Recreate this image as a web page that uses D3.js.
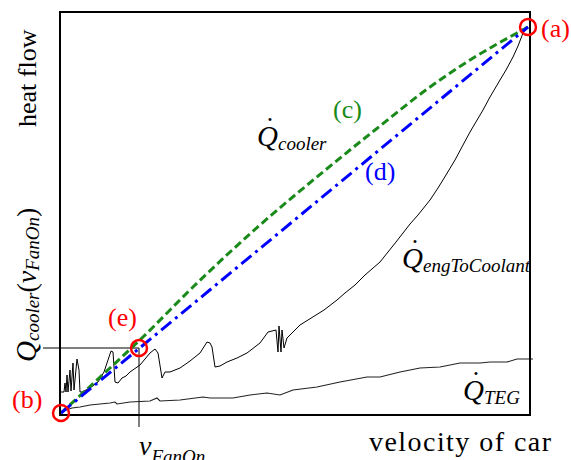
<!DOCTYPE html>
<html>
<meta charset="utf-8">
<head>
    <title>Heat flow over velocity of car</title>
</head>
<style>
    body { margin: 0; background: #fff; }
    svg, text, tspan { font-family: "Liberation Serif", "Times New Roman", Times, serif; }
</style>
<script src="https://d3js.org/d3.v7.min.js"></script>
<body>
<div id="chart"></div>
<script>

// velocity of car / heat flow, arbitrary units
var engToCoolant = [[0.1,2.3],[0.4,2.3],[0.5,3.2],[0.6,2.3],[0.7,4.0],[0.8,2.3],[1.0,4.5],[1.1,2.4],
  [1.3,5.2],[1.4,2.5],[1.7,5.6],[1.9,4.5],[2.0,2.3],[2.2,2.3],[3.0,2.7],[3.8,3.3],[4.4,4.3],[4.8,5.5],
  [5.1,6.4],[5.3,6.3],[5.5,3.3],[5.8,3.2],[6.2,3.7],[6.6,3.9],[7.0,4.3],[8.0,5.0],[9.0,6.2],[9.5,6.6],
  [9.8,6.2],[10.2,3.7],[10.5,4.3],[11.0,4.3],[12.0,4.7],[13.0,5.4],[14.0,6.2],[14.7,7.3],[15.0,7.2],
  [15.2,6.8],[15.5,4.8],[16.0,4.9],[16.7,5.3],[17.7,5.7],[18.7,6.2],[20.0,7.2],[20.8,8.3],[21.6,8.5],
  [21.8,6.3],[21.9,8.9],[22.1,6.3],[22.2,8.5],[22.4,6.7],[22.7,7.7],[23.4,8.4],[24.0,9.0],[24.8,9.5],
  [25.6,10.0],[26.4,10.5],[27.7,11.5],[28.5,12.2],[29.5,13.0],[30.5,14.0],[32.0,15.3],[32.8,16.3],
  [33.6,17.3],[34.3,18.2],[35.0,19.1],[35.8,20.0],[37.0,21.5],[37.8,22.7],[38.6,24.0],[39.5,25.5],
  [40.3,27.0],[41.0,28.3],[42.3,30.5],[43.0,31.8],[44.0,33.5],[44.6,34.5],[45.3,35.8],[45.8,36.9],
  [46.3,38.2],[46.8,38.8]]

var teg = [[0.1,0.3],[0.6,0.5],[1.2,0.7],[2.0,0.8],[3.0,1.0],[4.0,1.1],[5.0,1.2],[5.5,1.3],[5.7,1.1],
  [7.0,1.3],[9.0,1.4],[9.7,1.7],[10.0,1.4],[12.0,1.5],[14.3,1.8],[15.0,1.7],[17.3,1.7],[19.0,2.0],
  [20.7,2.2],[22.0,2.0],[23.3,2.5],[25.7,2.8],[28.0,3.3],[30.7,3.8],[32.0,3.8],[34.0,4.3],[36.0,4.7],
  [38.0,4.8],[40.0,5.2],[42.0,5.2],[43.0,5.3],[44.7,5.3],[45.7,5.6],[47.3,5.6]]

var coolerMax = [[0.1,0.2],[5.0,4.7],[8.3,7.8],[13.3,12.8],[20.0,19.0],[26.3,24.3],[31.5,28.5],
  [37.0,32.8],[41.0,35.5],[45.7,38.2],[46.8,38.8]]

var coolerLinear = [[0.1,0.2],[46.8,38.8]]

// marked points (a), (b), (e)
var pointA = [46.8,38.8]
var pointB = [0.1,0.2]
var pointE = [7.9,6.7]

var width = 571, height = 460

var svg = d3.select("#chart")
  .append("svg")
  .attr("width", width)
  .attr("height", height)
  .attr("font-family", "Liberation Serif, serif")

var x = d3.scaleLinear().domain([0, 47]).range([60, 530])
var y = d3.scaleLinear().domain([0, 40.3]).range([415, 12])

var line = d3.line()
  .x(function(d) { return x(d[0]); })
  .y(function(d) { return y(d[1]); })

// fan-on guide lines
svg.append("line")
  .attr("x1", 43).attr("x2", x(pointE[0]))
  .attr("y1", y(pointE[1])).attr("y2", y(pointE[1]))
  .style("stroke", "black").style("stroke-width", 1)
svg.append("line")
  .attr("x1", x(pointE[0])).attr("x2", x(pointE[0]))
  .attr("y1", y(pointE[1])).attr("y2", 427)
  .style("stroke", "black").style("stroke-width", 1)

// curves
svg.append("path").datum(teg)
  .attr("d", line)
  .style("fill", "none").style("stroke", "#222").style("stroke-width", 1.1)

svg.append("path").datum(engToCoolant)
  .attr("d", line)
  .style("fill", "none").style("stroke", "#000").style("stroke-width", 1)

svg.append("path").datum(coolerMax)
  .attr("d", line.curve(d3.curveMonotoneX))
  .style("fill", "none").style("stroke", "#1a8a1a").style("stroke-width", 3)
  .style("stroke-dasharray", "8,4")

line.curve(d3.curveLinear)

svg.append("path").datum(coolerLinear)
  .attr("d", line)
  .style("fill", "none").style("stroke", "#0000ff").style("stroke-width", 3)
  .style("stroke-dasharray", "13,5,3,5")

// plot frame
svg.append("rect")
  .attr("x", x(0)).attr("y", y(40.3))
  .attr("width", x(47) - x(0)).attr("height", y(0) - y(40.3))
  .style("fill", "none").style("stroke", "black").style("stroke-width", 2)

// red circles
svg.selectAll("circle.mark")
  .data([pointA, pointB, pointE])
  .enter().append("circle")
  .attr("class", "mark")
  .attr("cx", function(d) { return x(d[0]); })
  .attr("cy", function(d) { return y(d[1]); })
  .attr("r", 8)
  .style("fill", "none").style("stroke", "#ff0000").style("stroke-width", 2.5)

// letters
function tag(t, px, py, col) {
  svg.append("text").attr("x", px).attr("y", py)
    .style("font-size", "26px").style("fill", col).text(t)
}
tag("(a)", 541, 37, "#ff0000")
tag("(b)", 12, 408, "#ff0000")
tag("(c)", 333, 118, "#1a8a1a")
tag("(d)", 365, 180, "#0000ff")
tag("(e)", 108, 326, "#ff0000")

// Q-dot labels
function qLabel(px, py, sub) {
  var t = svg.append("text").attr("x", px).attr("y", py)
  t.append("tspan").style("font-size", "29px").style("font-style", "italic").text("Q")
  t.append("tspan").attr("dy", 4).style("font-size", "19px").style("font-style", "italic").text(sub)
  svg.append("text").attr("x", px + 13).attr("y", py - 10)
    .style("font-size", "28px").attr("text-anchor", "middle").text("\u02D9")
}
qLabel(257, 146, "cooler")
qLabel(402, 268, "engToCoolant")
qLabel(463, 400, "TEG")

// axis titles
svg.append("text")
  .attr("transform", "translate(36,127) rotate(-90)")
  .style("font-size", "26px").text("heat flow")

svg.append("text").attr("x", 369).attr("y", 451)
  .attr("textLength", 182).attr("lengthAdjust", "spacing")
  .style("font-size", "28px").text("velocity of car")

var rl = svg.append("text")
  .attr("transform", "translate(36,362) rotate(-90)")
rl.append("tspan").style("font-size", "29px").style("font-style", "italic").text("Q")
rl.append("tspan").attr("dy", 3).style("font-size", "19px").style("font-style", "italic").text("cooler")
rl.append("tspan").attr("dy", -3).style("font-size", "28px").text("(")
rl.append("tspan").style("font-size", "28px").style("font-style", "italic").text("v")
rl.append("tspan").attr("dy", 3).style("font-size", "19px").style("font-style", "italic").text("FanOn")
rl.append("tspan").attr("dy", -3).style("font-size", "28px").text(")")

var vl = svg.append("text").attr("x", 139).attr("y", 455)
vl.append("tspan").style("font-size", "28px").style("font-style", "italic").text("v")
vl.append("tspan").attr("dy", 8).style("font-size", "19px").style("font-style", "italic").text("FanOn")

</script>
</body>
</html>
